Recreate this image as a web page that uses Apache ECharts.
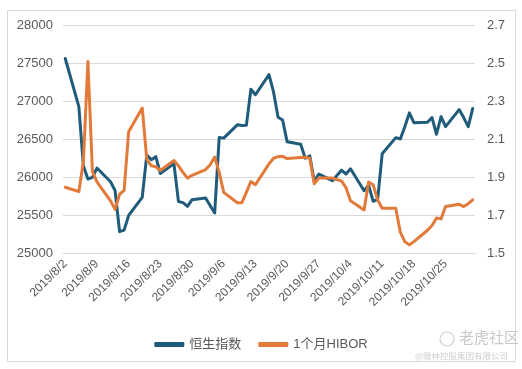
<!DOCTYPE html>
<html><head><meta charset="utf-8">
<script src="https://cdn.jsdelivr.net/npm/echarts@6/dist/echarts.min.js"></script>
<style>html,body{margin:0;padding:0;background:#fff}#c{width:522px;height:369px}</style>
</head><body><div id="c"></div>
<script>
const tradeDates = ['2019/8/2','2019/8/5','2019/8/6','2019/8/7','2019/8/8','2019/8/9','2019/8/12','2019/8/13','2019/8/14','2019/8/15','2019/8/16','2019/8/19','2019/8/20','2019/8/21','2019/8/22','2019/8/23','2019/8/26','2019/8/27','2019/8/28','2019/8/29','2019/8/30',
'2019/9/2','2019/9/3','2019/9/4','2019/9/5','2019/9/6','2019/9/9','2019/9/10','2019/9/11','2019/9/12','2019/9/13','2019/9/16','2019/9/17','2019/9/18','2019/9/19','2019/9/20','2019/9/23','2019/9/24','2019/9/25','2019/9/26','2019/9/27','2019/9/30',
'2019/10/2','2019/10/3','2019/10/4','2019/10/7','2019/10/8','2019/10/9','2019/10/10','2019/10/11','2019/10/14','2019/10/15','2019/10/16','2019/10/17','2019/10/18','2019/10/21','2019/10/22','2019/10/23','2019/10/24','2019/10/25','2019/10/28','2019/10/29','2019/10/30','2019/10/31'];

const hsi = [27565,26930,26151,25976,25997,26120,25939,25824,25281,25302,25495,25734,26291,26231,26270,26048,26179,25680,25664,25615,25703,
25724,25626,25527,26523,26515,26690,26681,26683,27159,27087,27352,27124,26790,26754,26468,26435,26250,26281,25945,26041,25954,
26092,26042,26110,25821,25893,25682,25707,26308,26521,26503,26664,26848,26719,26725,26786,26566,26797,26667,26891,26786,26667,26906];

const hibor = [1.847,1.824,1.98,2.51,1.93,1.875,1.775,1.73,1.81,1.83,2.14,2.265,1.995,1.96,1.955,1.935,1.988,1.96,1.925,1.895,1.91,
1.94,1.965,2.006,1.925,1.82,1.765,1.765,1.82,1.877,1.86,1.97,2.0,2.008,2.01,1.998,2.004,2.005,2.0,1.865,1.895,1.895,
1.88,1.845,1.775,1.727,1.875,1.86,1.78,1.736,1.736,1.61,1.56,1.543,1.56,1.62,1.645,1.685,1.68,1.745,1.757,1.745,1.76,1.78];

const seriesNames = ['恒生指数','1个月HIBOR'];
const firstDay = '2019/8/2', lastDay = '2019/10/31';

// calendar category axis (every day), trading values placed on their dates
const days = [];
{
  const p = s => { const a = s.split('/').map(Number); return new Date(a[0], a[1]-1, a[2]); };
  const end = p(lastDay);
  for (let d = p(firstDay); d <= end; d.setDate(d.getDate()+1)) days.push(d.getFullYear()+'/'+(d.getMonth()+1)+'/'+d.getDate());
}
const pos = {}; tradeDates.forEach((t,i)=>pos[t]=i);
const hsiData = days.map(d => d in pos ? hsi[pos[d]] : null);
const hiborData = days.map(d => d in pos ? hibor[pos[d]] : null);

const FONT = '"Liberation Sans", Arial, "Noto Sans CJK SC", sans-serif';
const TXT = '#595959', GRID = '#d9d9d9';
const chart = echarts.init(document.getElementById('c'), null, {renderer:'canvas'});
chart.setOption({
  animation: false,
  backgroundColor: '#fff',
  textStyle: {fontFamily: FONT},
  grid: {left: 63, right: 47, top: 25.5, bottom: 116, containLabel: false},
  legend: {
    data: seriesNames, left: 'center', top: 333, icon: 'roundRect',
    itemWidth: 30, itemHeight: 5, itemGap: 17,
    textStyle: {color: TXT, fontSize: 13, fontFamily: FONT}
  },
  xAxis: {
    type: 'category', data: days, boundaryGap: true,
    axisLine: {lineStyle: {color: GRID, width: 1}},
    axisTick: {interval: 6, length: 4, lineStyle: {color: GRID}},
    axisLabel: {interval: 6, rotate: 45, color: TXT, fontSize: 12, margin: 9, fontFamily: FONT}
  },
  yAxis: [{
    type: 'value', min: 25000, max: 28000, interval: 500,
    axisLine: {show: false}, axisTick: {show: false},
    splitLine: {lineStyle: {color: GRID, width: 1}},
    axisLabel: {color: TXT, fontSize: 13, margin: 10, fontFamily: FONT, formatter: v => String(v)}
  }, {
    type: 'value', min: 1.5, max: 2.7, interval: 0.2, position: 'right',
    axisLine: {show: false}, axisTick: {show: false}, splitLine: {show: false},
    axisLabel: {color: TXT, fontSize: 13, margin: 12, fontFamily: FONT, formatter: v => v.toFixed(1)}
  }],
  series: [{
    name: seriesNames[0], type: 'line', yAxisIndex: 0, data: hsiData,
    connectNulls: true, symbol: 'none', showSymbol: false,
    itemStyle: {color: '#1f5c7b'},
    lineStyle: {color: '#1f5c7b', width: 3, cap: 'round', join: 'round'}
  }, {
    name: seriesNames[1], type: 'line', yAxisIndex: 1, data: hiborData,
    connectNulls: true, symbol: 'none', showSymbol: false,
    itemStyle: {color: '#e27a3a'},
    lineStyle: {color: '#e27a3a', width: 3, cap: 'round', join: 'round'}
  }],
  graphic: [
    {type: 'rect', shape: {x: 7.5, y: 10.5, width: 508, height: 351}, style: {fill: 'none', stroke: GRID, lineWidth: 1}, silent: true},
    {type: 'circle', shape: {cx: 447, cy: 339, r: 7}, style: {fill: 'none', stroke: '#cfcfcf', lineWidth: 1.2}, silent: true},
    {type: 'text', left: 459, top: 330, style: {text: '老虎社区', fill: '#c8c8c8', font: '15px "Noto Sans CJK SC", sans-serif'}, silent: true},
    {type: 'text', left: 415, top: 352, style: {text: '@雅林控股集团有限公司', fill: '#cfcfcf', font: '8.5px "Noto Sans CJK SC", sans-serif'}, silent: true}
  ]
});
</script></body></html>
